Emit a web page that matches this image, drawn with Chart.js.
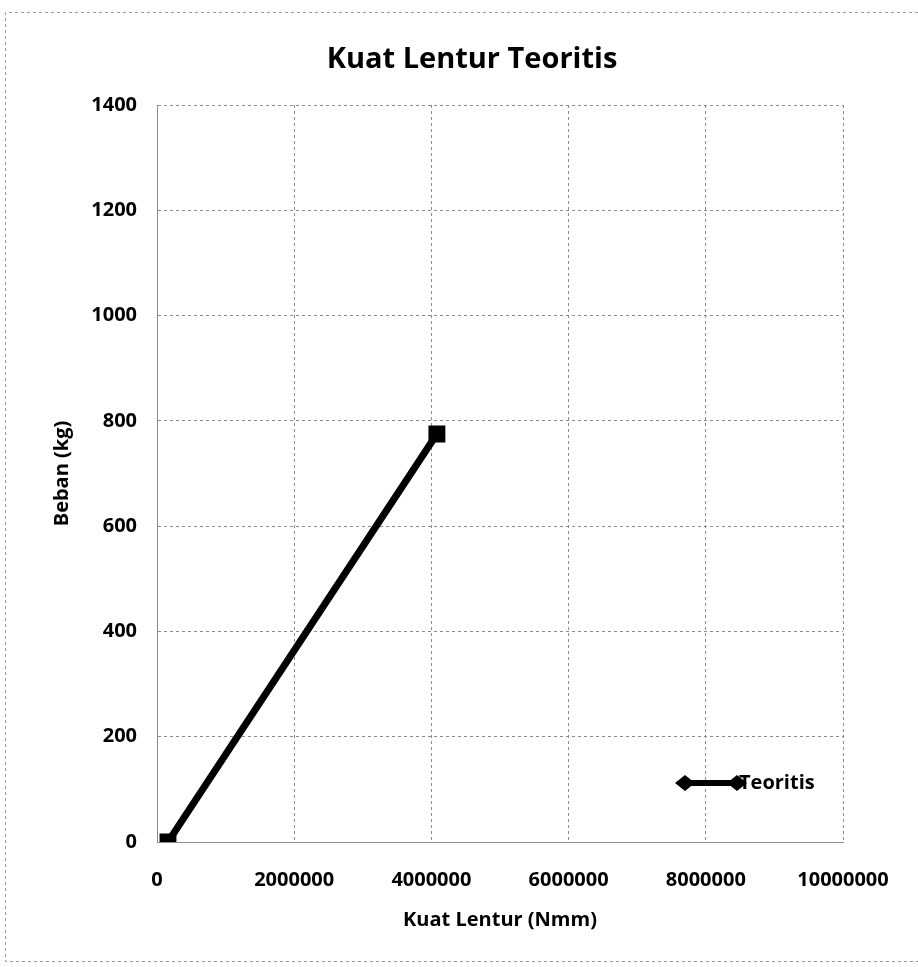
<!DOCTYPE html>
<html>
<head>
<meta charset="utf-8">
<script src="https://cdn.jsdelivr.net/npm/chart.js@4.4.0/dist/chart.umd.min.js"></script>
<style>
    html, body { margin: 0; padding: 0; background: #fff; }
    #wrap { width: 918px; height: 967px; position: relative; }
</style>
</head>
<body>
<div id="wrap"><canvas id="lenturChart"></canvas></div>
<script>
// Data
const kuatLentur = [160000, 4080000];   // Nmm
const beban = [0, 775];                 // kg
const xTicks = [0, 2000000, 4000000, 6000000, 8000000, 10000000];
const yTicks = [0, 200, 400, 600, 800, 1000, 1200, 1400];
const seriesName = 'Teoritis';

const FONT = '"Open Sans", "DejaVu Sans", sans-serif';

// Title, frame and legend drawn on top
const decorPlugin = {
    id: 'decor',
    afterDraw(chart) {
        const ctx = chart.ctx;
        ctx.save();

        // dashed outer frame (top, left, bottom)
        ctx.strokeStyle = '#9a9a9a';
        ctx.lineWidth = 1;
        ctx.setLineDash([3, 3]);
        ctx.beginPath();
        ctx.moveTo(918, 12.5);
        ctx.lineTo(5.5, 12.5);
        ctx.lineTo(5.5, 961.5);
        ctx.lineTo(918, 961.5);
        ctx.stroke();
        ctx.setLineDash([]);

        // title
        ctx.fillStyle = '#000';
        ctx.font = 'bold 29px ' + FONT;
        ctx.textAlign = 'center';
        ctx.textBaseline = 'middle';
        ctx.fillText('Kuat Lentur Teoritis', 472, 60);

        // legend, bottom right inside the plot
        const ly = 783;
        ctx.strokeStyle = '#000';
        ctx.fillStyle = '#000';
        ctx.lineWidth = 6;
        ctx.beginPath();
        ctx.moveTo(685, ly);
        ctx.lineTo(737, ly);
        ctx.stroke();
        [685, 737].forEach(cx => {
            ctx.beginPath();
            ctx.moveTo(cx - 10, ly);
            ctx.lineTo(cx, ly - 8);
            ctx.lineTo(cx + 10, ly);
            ctx.lineTo(cx, ly + 8);
            ctx.closePath();
            ctx.fill();
        });
        ctx.font = 'bold 20px ' + FONT;
        ctx.textAlign = 'left';
        ctx.fillText(seriesName, 739, ly);
        ctx.restore();
    }
};

const ctx = document.getElementById('lenturChart');
new Chart(ctx, {
    type: 'scatter',
    data: {
        datasets: [{
            label: seriesName,
            data: kuatLentur.map((x, i) => ({ x: x, y: beban[i] })),
            showLine: true,
            borderColor: '#000',
            backgroundColor: '#000',
            borderWidth: 7,
            pointStyle: 'rect',
            pointRadius: 7,
            pointHoverRadius: 7
        }]
    },
    options: {
        responsive: true,
        maintainAspectRatio: false,
        animation: false,
        layout: { padding: { top: 105, right: 75, bottom: 20, left: 10 } },
        plugins: {
            legend: { display: false },
            title: { display: false },
            tooltip: { enabled: false }
        },
        scales: {
            x: {
                type: 'linear',
                min: 0,
                max: 10000000,
                afterBuildTicks: s => { s.ticks = xTicks.map(v => ({ value: v })); },
                afterFit: s => { s.height = 105; },
                grid: { color: '#8c8c8c', drawTicks: false },
                border: { color: '#8c8c8c', dash: [3, 3] },
                ticks: {
                    color: '#000',
                    padding: 26,
                    maxRotation: 0,
                    font: { family: FONT, size: 20, weight: 'bold' },
                    callback: v => String(v)
                },
                title: {
                    display: true,
                    text: 'Kuat Lentur (Nmm)',
                    color: '#000',
                    font: { family: FONT, size: 20, weight: 'bold' },
                    padding: { top: 0, bottom: 15 }
                }
            },
            y: {
                type: 'linear',
                min: 0,
                max: 1400,
                afterBuildTicks: s => { s.ticks = yTicks.map(v => ({ value: v })); },
                afterFit: s => { s.width = 147; },
                grid: { color: '#8c8c8c', drawTicks: false },
                border: { color: '#8c8c8c', dash: [3, 3] },
                ticks: {
                    color: '#000',
                    padding: 20,
                    font: { family: FONT, size: 20, weight: 'bold' },
                    callback: v => String(v)
                },
                title: {
                    display: true,
                    text: 'Beban (kg)',
                    color: '#000',
                    font: { family: FONT, size: 20, weight: 'bold' },
                    padding: { top: 40, bottom: 0 }
                }
            }
        }
    },
    plugins: [decorPlugin]
});
</script>
</body>
</html>
